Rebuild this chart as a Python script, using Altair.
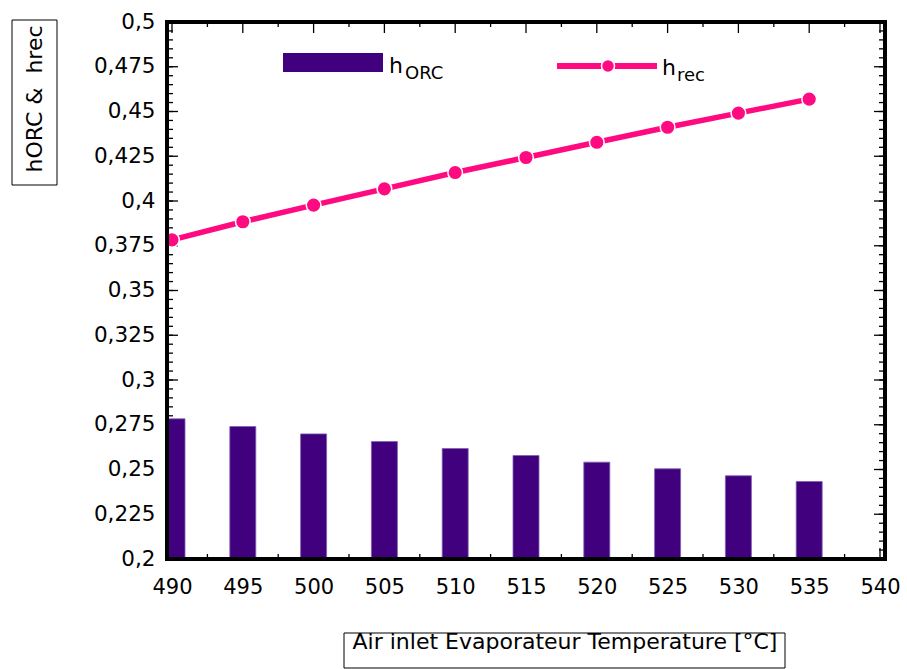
import altair as alt
import pandas as pd

# ---- data ----
temps = [490, 495, 500, 505, 510, 515, 520, 525, 530, 535]
eta_orc = [0.2783, 0.2740, 0.2699, 0.2656, 0.2617, 0.2578, 0.2541, 0.2504, 0.2465, 0.2433]
eta_rec = [0.3783, 0.3884, 0.3977, 0.4068, 0.4159, 0.4243, 0.4328, 0.4412, 0.4491, 0.4569]

x_major = [490, 495, 500, 505, 510, 515, 520, 525, 530, 535, 540]
x_minor = [492.5, 497.5, 502.5, 507.5, 512.5, 517.5, 522.5, 527.5, 532.5, 537.5]
y_major = [0.2, 0.225, 0.25, 0.275, 0.3, 0.325, 0.35, 0.375, 0.4, 0.425, 0.45, 0.475, 0.5]
y_minor = [round(0.2 + 0.005 * i, 3) for i in range(61)]

legend_h = ["h"]
legend_orc_sub = ["ORC"]
legend_rec_sub = ["rec"]
y_title = ["hORC &\u00a0 hrec"]
x_title = ["Air inlet Evaporateur Temperature [°C]"]

FONT = "DejaVu Sans"
BAR_COLOR = "#41007D"
LINE_COLOR = "#FF0A80"
W, H = 718, 537

df = pd.DataFrame({"T": temps, "ORC": eta_orc, "REC": eta_rec})

xs = alt.Scale(domain=[490, 540], nice=False, zero=False)
ys = alt.Scale(domain=[0.2, 0.5], nice=False, zero=False)

label_expr = "replace(format(datum.value, '.3~f'), '.', ',')"

X_AXIS = alt.Axis(orient="bottom", values=x_major, tickSize=0, labelPadding=17,
                  labelFontSize=21, labelFont=FONT, labelColor="black",
                  domain=False, grid=False, title=None, labelFlush=False)
Y_AXIS = alt.Axis(orient="left", values=y_major, tickSize=0, labelPadding=12,
                  labelFontSize=21.5, labelFont=FONT, labelColor="black",
                  labelExpr=label_expr, domain=False, grid=False, title=None,
                  labelFlush=False)


def y_ticks(values, length, right=False):
    x0, x1 = (W - length, W) if right else (0, length)
    return alt.Chart(pd.DataFrame({"v": values})).mark_rule(
        color="black", strokeWidth=1.3).encode(
        y=alt.Y("v:Q", scale=ys, axis=Y_AXIS),
        x=alt.value(x0), x2=alt.value(x1))


def x_ticks(values, length, bottom=False):
    y0, y1 = (H - length, H) if bottom else (0, length)
    return alt.Chart(pd.DataFrame({"v": values})).mark_rule(
        color="black", strokeWidth=1.3).encode(
        x=alt.X("v:Q", scale=xs, axis=X_AXIS),
        y=alt.value(y0), y2=alt.value(y1))


tick_layers = [
    y_ticks(y_major, 11), y_ticks(y_minor, 6),
    y_ticks(y_major, 11, right=True), y_ticks(y_minor, 6, right=True),
    x_ticks(x_major, 11), x_ticks(x_minor, 5),
    x_ticks(x_major, 11, bottom=True), x_ticks(x_minor, 5, bottom=True),
]

base = alt.Chart(df)

bars = base.mark_bar(size=26, clip=True, color=BAR_COLOR, stroke="#7E62B0",
                     strokeWidth=0.8).encode(
    x=alt.X("T:Q", scale=xs, axis=X_AXIS),
    y=alt.Y("ORC:Q", scale=ys, axis=Y_AXIS),
    y2=alt.datum(0.2),
)

line = base.mark_line(clip=True, color=LINE_COLOR, strokeWidth=5.5).encode(
    x=alt.X("T:Q", scale=xs, axis=X_AXIS),
    y=alt.Y("REC:Q", scale=ys, axis=Y_AXIS),
)

points = base.mark_circle(clip=True, size=215, fill=LINE_COLOR, opacity=1,
                          stroke="white", strokeWidth=1.5).encode(
    x=alt.X("T:Q", scale=xs, axis=X_AXIS),
    y=alt.Y("REC:Q", scale=ys, axis=Y_AXIS),
)

one = pd.DataFrame({"k": [0]})

frame = alt.Chart(one).mark_rect(fillOpacity=0, stroke="black", strokeWidth=4).encode(
    x=alt.value(0), x2=alt.value(W), y=alt.value(0), y2=alt.value(H))

# legend: bars
leg_bar = alt.Chart(one).mark_rect(color=BAR_COLOR).encode(
    x=alt.value(116), x2=alt.value(216), y=alt.value(31), y2=alt.value(50))
leg_h1 = alt.Chart(pd.DataFrame({"t": legend_h})).mark_text(
    font=FONT, fontSize=22, align="left", baseline="alphabetic", color="black").encode(
    x=alt.value(222), y=alt.value(51), text="t:N")
leg_s1 = alt.Chart(pd.DataFrame({"t": legend_orc_sub})).mark_text(
    font=FONT, fontSize=18, align="left", baseline="alphabetic", color="black").encode(
    x=alt.value(238), y=alt.value(57), text="t:N")

# legend: line
leg_line = alt.Chart(one).mark_rule(color=LINE_COLOR, strokeWidth=6).encode(
    x=alt.value(390), x2=alt.value(490), y=alt.value(44))
leg_pt = alt.Chart(one).mark_circle(size=170, fill=LINE_COLOR, opacity=1,
                                    stroke="white", strokeWidth=1.5).encode(
    x=alt.value(441), y=alt.value(44))
leg_h2 = alt.Chart(pd.DataFrame({"t": legend_h})).mark_text(
    font=FONT, fontSize=22, align="left", baseline="alphabetic", color="black").encode(
    x=alt.value(495), y=alt.value(53), text="t:N")
leg_s2 = alt.Chart(pd.DataFrame({"t": legend_rec_sub})).mark_text(
    font=FONT, fontSize=18, align="left", baseline="alphabetic", color="black").encode(
    x=alt.value(510), y=alt.value(59), text="t:N")

# axis titles in boxes
ybox = alt.Chart(one).mark_rect(fillOpacity=0, stroke="black", strokeWidth=1).encode(
    x=alt.value(-155), x2=alt.value(-110), y=alt.value(-2), y2=alt.value(163))
ytxt = alt.Chart(pd.DataFrame({"t": y_title})).mark_text(
    font=FONT, fontSize=22, angle=270, align="center", baseline="middle",
    color="black").encode(x=alt.value(-132), y=alt.value(77), text="t:N")
xbox = alt.Chart(one).mark_rect(fillOpacity=0, stroke="black", strokeWidth=1).encode(
    x=alt.value(177), x2=alt.value(618), y=alt.value(611), y2=alt.value(646))
xtxt = alt.Chart(pd.DataFrame({"t": x_title})).mark_text(
    font=FONT, fontSize=22, align="center", baseline="alphabetic",
    color="black").encode(x=alt.value(398), y=alt.value(627), text="t:N")

chart = alt.layer(
    *tick_layers, bars, line, points, frame,
    leg_bar, leg_h1, leg_s1, leg_line, leg_pt, leg_h2, leg_s2,
    ybox, ytxt, xbox, xtxt,
).properties(
    width=W, height=H,
    autosize=alt.AutoSizeParams(type="none"),
    padding={"left": 167, "top": 22, "right": 22, "bottom": 110},
    background="white",
).configure_view(strokeWidth=0)

chart.save("out.html", embed_options={"renderer": "svg", "actions": False})
